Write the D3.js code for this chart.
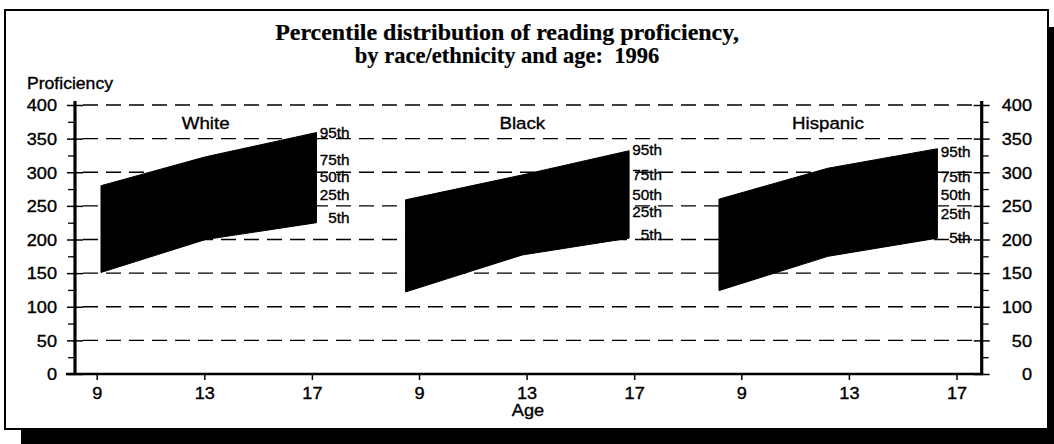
<!DOCTYPE html>
<html><head><meta charset="utf-8">
<script src="https://cdn.jsdelivr.net/npm/d3@7"></script>
<style>body{margin:0;background:#fff} svg{display:block} text{white-space:pre}</style>
</head><body><svg id="c" width="1054" height="444"></svg>
<script>
// ---- data ----
const titleLines = ["Percentile distribution of reading proficiency,", "by race/ethnicity and age:  1996"];
const yTitle = "Proficiency";
const xTitle = "Age";
const groups = ["White", "Black", "Hispanic"];
const ages = [9, 13, 17];
// ages at which each band's vertices sit (as drawn in the source)
const bandAges = [[9.16, 13.05, 17.17], [8.5, 12.84, 16.81], [8.17, 12.22, 16.29]];
const p95 = [[280, 323, 359], [259, 296, 332], [260, 306, 335]];
const p5  = [[151, 200, 225], [122, 177, 202], [124, 175, 202]];
const pctNames = ["95th", "75th", "50th", "25th", "5th"];
const pctLabelValues = [[359, 319, 293, 266, 232], [333, 296, 267, 241, 207], [330, 294, 266, 239, 202]];
const yTicks = [0, 50, 100, 150, 200, 250, 300, 350, 400];
const yMinorTicks = [25, 75, 125, 175, 225, 275, 325, 375];

// ---- layout ----
const svg = d3.select("#c");
const SANS = "'Liberation Sans', Arial, Helvetica, sans-serif";
const SERIF = "'Liberation Serif', 'Times New Roman', serif";
const SX = 1.1;
const axL = 75, axR = 981.7, axB = 374, axT = 101;
const y = d3.scaleLinear().domain([0, 400]).range([374, 105]);
const px = groups.map((g, i) => d3.scaleLinear().domain([9, 17]).range([96.7 + i * 322.3, 311.9 + i * 322.3]));

function txt(parent, x, yy, s, size, anchor, opts = {}) {
  return parent.append("text")
    .attr("transform", `translate(${x},${yy}) scale(${opts.sx || SX},1)`)
    .attr("text-anchor", anchor)
    .attr("font-family", opts.family || SANS)
    .attr("font-weight", opts.weight || "normal")
    .attr("font-size", size)
    .attr("dy", opts.dy == null ? "0.35em" : opts.dy)
    .attr("fill", "#000")
    .attr("stroke", "#000").attr("stroke-width", opts.sw == null ? 0.35 : opts.sw)
    .text(s);
}

// frame with shadow
svg.append("rect").attr("x", 21).attr("y", 27).attr("width", 1100).attr("height", 500).attr("fill", "#000");
svg.append("rect").attr("x", 5).attr("y", 10).attr("width", 1043).attr("height", 419)
  .attr("fill", "#fff").attr("stroke", "#000").attr("stroke-width", 2);

// title
txt(svg, 507, 40, titleLines[0], 22.5, "middle", {family: SERIF, weight: "bold", sx: 1.065, dy: 0, sw: 0.2});
txt(svg, 507, 63, titleLines[1], 22.5, "middle", {family: SERIF, weight: "bold", sx: 1.0, dy: 0, sw: 0.2});

// gridlines
svg.append("g").selectAll("line").data(yTicks.filter(d => d > 0)).join("line")
  .attr("x1", axL + 8).attr("x2", axR - 3)
  .attr("y1", d => y(d)).attr("y2", d => y(d))
  .attr("stroke", "#000").attr("stroke-width", 1.3).attr("stroke-dasharray", "15,8");

// bands
groups.forEach((g, i) => {
  const pts = bandAges[i].map((a, k) => ({a, lo: p5[i][k], hi: p95[i][k]}));
  const area = d3.area().x(d => px[i](d.a)).y0(d => y(d.lo)).y1(d => y(d.hi));
  svg.append("path").attr("d", area(pts)).attr("fill", "#000").attr("stroke", "#000").attr("stroke-width", 1);
  // group title
  txt(svg, px[i](bandAges[i][1]), 123, g, 17, "middle");
  // percentile labels
  const lx = px[i](bandAges[i][2]) + 33;
  pctNames.forEach((n, k) => txt(svg, lx, y(pctLabelValues[i][k]), n, 15, "end", {sx: 1.02}));
});

function styleTickText(sel, tx, ty, anchor) {
  sel.each(function () {
    d3.select(this).attr("x", null).attr("y", null).attr("dy", "0.35em")
      .attr("text-anchor", anchor)
      .attr("transform", `translate(${tx},${ty}) scale(${SX},1)`)
      .attr("font-family", SANS).attr("font-size", 16.5).attr("fill", "#000")
      .attr("stroke", "#000").attr("stroke-width", 0.35);
  });
}

// left axis
const leftAxis = svg.append("g").attr("transform", `translate(${axL},0)`)
  .call(d3.axisLeft(y).tickValues(yTicks).tickSize(8).tickPadding(0));
leftAxis.select(".domain").remove();
leftAxis.selectAll(".tick line").attr("x1", 8).attr("x2", -8).attr("stroke-width", 1.5);
styleTickText(leftAxis.selectAll(".tick text"), -18, 0, "end");
svg.append("g").attr("transform", `translate(${axL},0)`)
  .call(d3.axisLeft(y).tickValues(yMinorTicks).tickSize(7).tickFormat(""))
  .call(g => g.select(".domain").remove())
  .selectAll(".tick line").attr("stroke-width", 1.3);
svg.append("line").attr("x1", axL).attr("x2", axL).attr("y1", axT).attr("y2", axB + 1)
  .attr("stroke", "#000").attr("stroke-width", 3.2);

// right axis
const rightAxis = svg.append("g").attr("transform", `translate(${axR},0)`)
  .call(d3.axisRight(y).tickValues(yTicks).tickSize(8).tickPadding(0));
rightAxis.select(".domain").remove();
rightAxis.selectAll(".tick line").attr("x1", -8).attr("x2", 8).attr("stroke-width", 1.5);
styleTickText(rightAxis.selectAll(".tick text"), 1032 - axR, 0, "end");
svg.append("g").attr("transform", `translate(${axR},0)`)
  .call(d3.axisRight(y).tickValues(yMinorTicks).tickSize(7).tickFormat(""))
  .call(g => g.select(".domain").remove())
  .selectAll(".tick line").attr("stroke-width", 1.3);
svg.append("line").attr("x1", axR).attr("x2", axR).attr("y1", axT).attr("y2", axB + 1)
  .attr("stroke", "#000").attr("stroke-width", 3.2);

// bottom axis
groups.forEach((g, i) => {
  const ax = svg.append("g").attr("transform", `translate(0,${axB})`)
    .call(d3.axisBottom(px[i]).tickValues(ages).tickSize(6).tickPadding(0));
  ax.select(".domain").remove();
  ax.selectAll(".tick line").attr("stroke-width", 1.5);
  styleTickText(ax.selectAll(".tick text"), 0, 19.5, "middle");
});
svg.append("line").attr("x1", 66).attr("x2", axR + 1.5).attr("y1", axB).attr("y2", axB)
  .attr("stroke", "#000").attr("stroke-width", 2.6);

// axis titles
txt(svg, 27, 83.5, yTitle, 16, "start");
txt(svg, 528, 410.5, xTitle, 16.5, "middle");
</script></body></html>
